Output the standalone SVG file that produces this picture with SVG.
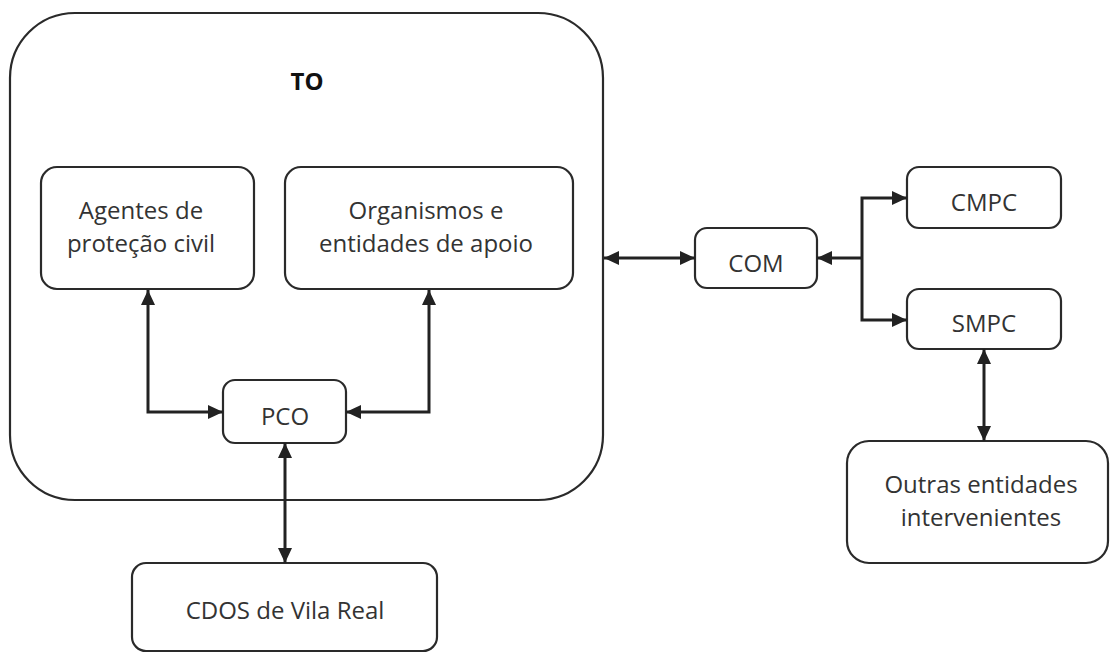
<svg xmlns="http://www.w3.org/2000/svg" width="1111" height="653" viewBox="0 0 1111 653">
<style>
.box{fill:#fff;stroke:#2a2a2a;stroke-width:2.2}
.lbl{font-family:"Open Sans","Noto Sans","Liberation Sans",sans-serif;font-size:24px;fill:#333;text-anchor:middle}
.conn{fill:none;stroke:#222;stroke-width:3}
</style>
<defs>
<marker id="ah" viewBox="0 0 15 14" refX="15" refY="7" markerWidth="15" markerHeight="14" markerUnits="userSpaceOnUse" orient="auto-start-reverse">
<path d="M0,0 L15,7 L0,14 z" fill="#222"/>
</marker>
</defs>
<rect width="1111" height="653" fill="#fff"/>
<g id="TO">
<rect class="box" x="10" y="13" width="593" height="487" rx="65"/>
<text class="lbl" x="307" y="90" style="font-weight:bold;fill:#111">TO</text>
</g>
<g id="agentes">
<rect class="box" x="41" y="167" width="213" height="122" rx="16"/>
<text class="lbl" x="141" y="219">Agentes de</text>
<text class="lbl" x="141" y="252">proteção civil</text>
</g>
<g id="organismos">
<rect class="box" x="285" y="167" width="288" height="122" rx="16"/>
<text class="lbl" x="426" y="219">Organismos e</text>
<text class="lbl" x="426" y="252">entidades de apoio</text>
</g>
<g id="PCO">
<rect class="box" x="223" y="380" width="123" height="63" rx="12"/>
<text class="lbl" x="285" y="425">PCO</text>
</g>
<g id="CDOS">
<rect class="box" x="132" y="563" width="305" height="88" rx="14"/>
<text class="lbl" x="285" y="619">CDOS de Vila Real</text>
</g>
<g id="COM">
<rect class="box" x="695" y="228" width="122" height="60" rx="12"/>
<text class="lbl" x="756" y="272">COM</text>
</g>
<g id="CMPC">
<rect class="box" x="907" y="167" width="154" height="61" rx="12"/>
<text class="lbl" x="984" y="211">CMPC</text>
</g>
<g id="SMPC">
<rect class="box" x="907" y="289" width="154" height="60" rx="12"/>
<text class="lbl" x="984" y="332">SMPC</text>
</g>
<g id="outras">
<rect class="box" x="847" y="441" width="261" height="122" rx="22"/>
<text class="lbl" x="981" y="493">Outras entidades</text>
<text class="lbl" x="981" y="526">intervenientes</text>
</g>
<g id="connectors">
<path class="conn" d="M148,290 V412 H223" marker-start="url(#ah)" marker-end="url(#ah)"/>
<path class="conn" d="M429,290 V412 H346" marker-start="url(#ah)" marker-end="url(#ah)"/>
<path class="conn" d="M285,443 V563" marker-start="url(#ah)" marker-end="url(#ah)"/>
<path class="conn" d="M604,258 H695" marker-start="url(#ah)" marker-end="url(#ah)"/>
<path class="conn" d="M862,258 H817" marker-end="url(#ah)"/>
<path class="conn" d="M907,198 H862 V320 H907" marker-start="url(#ah)" marker-end="url(#ah)"/>
<path class="conn" d="M984,349 V441" marker-start="url(#ah)" marker-end="url(#ah)"/>
</g>
</svg>
